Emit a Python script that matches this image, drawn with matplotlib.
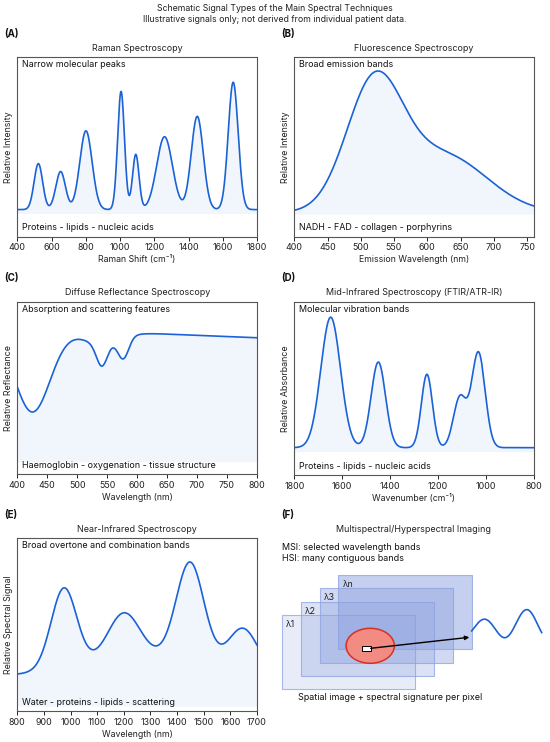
import numpy as np
import matplotlib
matplotlib.use("Agg")
import matplotlib.pyplot as plt
from matplotlib.patches import Rectangle, Ellipse

plt.rcParams["font.family"] = ["Inter", "DejaVu Sans"]
plt.rcParams["font.size"] = 6

W, H = 550, 742
LINE = "#1a62d6"

# --- panel values (peak centres, heights, widths) ---
raman_centers = [523, 653, 801, 1006, 1092, 1260, 1451, 1661]
raman_heights = [0.35, 0.29, 0.60, 0.90, 0.42, 0.555, 0.71, 0.97]
raman_widths = [25, 28, 36, 20, 19, 46, 35, 29]
raman_base = 0.03

fluor_centers = [520, 625]
fluor_heights = [0.88, 0.40]
fluor_widths = [42, 65]
fluor_base = 0.012

dr_level = 1.0
dr_tilt = -0.00019          # per nm, about 620 nm
dr_dip_centers = [425, 540, 541, 577]
dr_dip_depths = [0.65, 0.10, 0.17, 0.16]
dr_dip_widths = [30, 30, 9, 9]

mir_centers = [1648, 1449, 1246, 1108, 1031]
mir_heights = [0.96, 0.63, 0.54, 0.37, 0.70]
mir_widths = [41, 30, 23, 27, 28]
mir_base = 0.029

nir_centers = [975, 1200, 1449, 1648, 1300]
nir_heights = [0.55, 0.31, 0.67, 0.28, 0.14]
nir_widths = [48, 60, 52, 55, 250]
nir_base = 0.2

layer_labels = ["λ1", "λ2", "λ3", "λn"]
layer_alphas = [0.2, 0.3, 0.4, 0.5]


def bands(x, centers, heights, widths, base=0.0):
    y = np.full_like(x, base, dtype=float)
    for c, h, w in zip(centers, heights, widths):
        y += h * np.exp(-((x - c) ** 2) / (2 * w ** 2))
    return y


def box(l, t, r, b):
    return [l / W, 1 - b / H, (r - l) / W, (b - t) / H]


def spectrum_panel(rect, x, y, xlim, ylim, ticks, title, xlabel, ylabel, top_note, bottom_note):
    ax = fig.add_axes(box(*rect))
    ax.plot(x, y, color=LINE, lw=1.2)
    ax.fill_between(x, y, 0, color=LINE, alpha=0.06, lw=0)
    ax.set_xlim(*xlim)
    ax.set_ylim(*ylim)
    ax.set_xticks(ticks)
    ax.set_yticks([])
    ax.tick_params(axis="x", length=3, width=0.7, pad=2, labelsize=6.4, colors="#222")
    for s in ax.spines.values():
        s.set_color("#555")
        s.set_linewidth(0.8)
    ax.set_title(title, fontsize=6.45, pad=4.5, color="#222")
    ax.set_xlabel(xlabel, fontsize=6.3, labelpad=2, color="#222")
    ax.set_ylabel(ylabel, fontsize=6.4, labelpad=3, color="#222")
    ax.annotate(top_note, (0, 1), xycoords="axes fraction", xytext=(4.5, -7.5),
                textcoords="offset pixels", va="center", ha="left", fontsize=6.45, color="#111")
    ax.annotate(bottom_note, (0, 0), xycoords="axes fraction", xytext=(4.5, 8.5),
                textcoords="offset pixels", va="center", ha="left", fontsize=6.45, color="#111")
    return ax


fig = plt.figure(figsize=(W / 100, H / 100), dpi=100)

fig.text(275 / W, 1 - 8.3 / H, "Schematic Signal Types of the Main Spectral Techniques",
         ha="center", va="center", fontsize=6.3, color="#222")
fig.text(275 / W, 1 - 19.5 / H, "Illustrative signals only; not derived from individual patient data.",
         ha="center", va="center", fontsize=6.3, color="#222")

for lab, px, py in [("(A)", 4, 34), ("(B)", 281, 34), ("(C)", 4, 278),
                    ("(D)", 281, 278), ("(E)", 4, 515), ("(F)", 281, 515)]:
    fig.text(px / W, 1 - py / H, lab, ha="left", va="center", fontsize=7, fontweight="bold", color="#111")

# (A) Raman
x = np.linspace(400, 1800, 1400)
spectrum_panel((17.3, 57.3, 257, 236.5), x, bands(x, raman_centers, raman_heights, raman_widths, raman_base),
               (400, 1800), (-0.175, 1.19), range(400, 1801, 200),
               "Raman Spectroscopy", "Raman Shift (cm⁻¹)", "Relative Intensity",
               "Narrow molecular peaks", "Proteins - lipids - nucleic acids")

# (B) Fluorescence
x = np.linspace(400, 760, 800)
spectrum_panel((294.3, 57.3, 533.7, 236.5), x, bands(x, fluor_centers, fluor_heights, fluor_widths, fluor_base),
               (400, 760), (-0.157, 1.105), range(400, 751, 50),
               "Fluorescence Spectroscopy", "Emission Wavelength (nm)", "Relative Intensity",
               "Broad emission bands", "NADH - FAD - collagen - porphyrins")

# (C) Diffuse reflectance
x = np.linspace(400, 800, 800)
y = dr_level + dr_tilt * (x - 620) - bands(x, dr_dip_centers, dr_dip_depths, dr_dip_widths)
spectrum_panel((17.3, 301.7, 257, 474.3), x, y,
               (400, 800), (-0.099, 1.247), range(400, 801, 50),
               "Diffuse Reflectance Spectroscopy", "Wavelength (nm)", "Relative Reflectance",
               "Absorption and scattering features", "Haemoglobin - oxygenation - tissue structure")

# (D) Mid-infrared
x = np.linspace(800, 1800, 1000)
spectrum_panel((294.3, 301.7, 533.7, 475), x, bands(x, mir_centers, mir_heights, mir_widths, mir_base),
               (1800, 800), (-0.172, 1.103), range(1800, 799, -200),
               "Mid-Infrared Spectroscopy (FTIR/ATR-IR)", "Wavenumber (cm⁻¹)", "Relative Absorbance",
               "Molecular vibration bands", "Proteins - lipids - nucleic acids")

# (E) Near-infrared
x = np.linspace(800, 1700, 900)
spectrum_panel((17.3, 538.3, 257, 711), x, bands(x, nir_centers, nir_heights, nir_widths, nir_base),
               (800, 1700), (-0.034, 1.15), range(800, 1701, 100),
               "Near-Infrared Spectroscopy", "Wavelength (nm)", "Relative Spectral Signal",
               "Broad overtone and combination bands", "Water - proteins - lipids - scattering")

# (F) imaging cube sketch, drawn in figure-pixel coordinates
ax = fig.add_axes(box(278, 505, 550, 720))
ax.set_xlim(278, 550)
ax.set_ylim(720, 505)
ax.axis("off")

fig.text(414 / W, 1 - 529 / H, "Multispectral/Hyperspectral Imaging", ha="center", va="center",
         fontsize=6.45, color="#222")
ax.text(281.7, 547, "MSI: selected wavelength bands", va="center", ha="left", fontsize=6.45, color="#111")
ax.text(281.7, 558.5, "HSI: many contiguous bands", va="center", ha="left", fontsize=6.45, color="#111")

for i, (lab, a) in enumerate(zip(layer_labels, layer_alphas)):
    x0 = 281.7 + 18.9 * i
    y0 = 615 - 13.3 * i
    ax.add_patch(Rectangle((x0, y0), 133.3, 74.3, facecolor=(0.55, 0.63, 0.88, a),
                           edgecolor=(0.55, 0.63, 0.88, 0.75), lw=0.8, zorder=2 + i))
    ax.text(x0 + 4, y0 + 9.5, lab, va="center", ha="left", fontsize=6.3, color="#222", zorder=10)

ax.add_patch(Ellipse((370.2, 645.8), 48.3, 35, facecolor="#f28b82", edgecolor="#d93025", lw=1.1, zorder=8))
ax.add_patch(Rectangle((362.3, 645.7), 8.4, 5.3, facecolor="white", edgecolor="black", lw=0.7, zorder=9))
ax.annotate("", xy=(469.3, 637.3), xytext=(370.7, 648.3),
            arrowprops=dict(arrowstyle="-|>", color="black", lw=1, mutation_scale=6, shrinkA=0, shrinkB=0),
            zorder=9)

wx = np.linspace(471.7, 541.7, 200)
u = (wx - 483.3) / 42.7
amp = 9.2 + 4.8 * u
mid = 628.5 - 4.8 * u
ax.plot(wx, mid - amp * np.cos(2 * np.pi * u), color=LINE, lw=1.2, zorder=9)

ax.text(389.8, 697.3, "Spatial image + spectral signature per pixel", va="center", ha="center",
        fontsize=6.45, color="#111")

fig.savefig("out.png", dpi=100)
